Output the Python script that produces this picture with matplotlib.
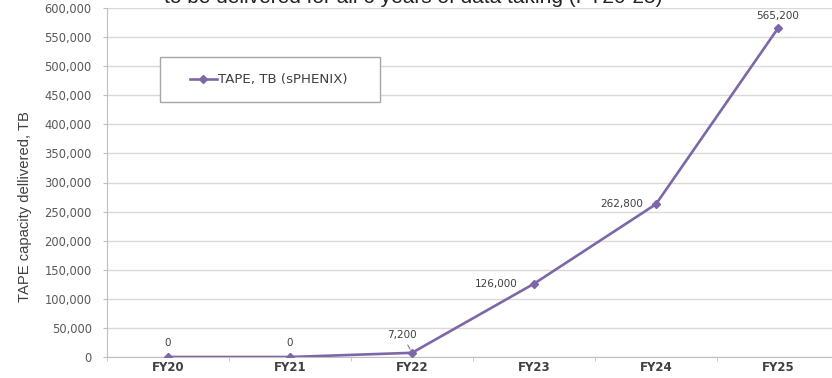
import matplotlib.pyplot as plt
from matplotlib.patches import Rectangle
from matplotlib.ticker import FuncFormatter, MultipleLocator

# Tape capacity delivered per fiscal year (TB)
years = ['FY20', 'FY21', 'FY22', 'FY23', 'FY24', 'FY25']
tape_tb = [0, 0, 7200, 126000, 262800, 565200]
value_labels = ['0', '0', '7,200', '126,000', '262,800', '565,200']

W, H = 832, 378
fig = plt.figure(figsize=(W / 100, H / 100), dpi=100)
ax = fig.add_axes([107 / W, 21 / H, 732 / W, 349 / H])

purple = '#7c68a8'
text_grey = '#404040'
axis_grey = '#bfbfbf'

xs = list(range(len(years)))
ax.plot(xs, tape_tb, color=purple, lw=1.9, marker='D', ms=4,
        label='TAPE, TB (sPHENIX)', zorder=3)

ax.set_xlim(-0.5, 5.5)
ax.set_ylim(0, 600000)
ax.yaxis.set_major_locator(MultipleLocator(50000))
ax.yaxis.set_major_formatter(FuncFormatter(lambda v, p: f'{v:,.0f}'))
ax.grid(axis='y', color='#d9d9d9', lw=1)
ax.set_axisbelow(True)
for s in ['top', 'right']:
    ax.spines[s].set_visible(False)
ax.spines['left'].set_color(axis_grey)
ax.spines['bottom'].set_color(axis_grey)

ax.set_xticks(xs)
ax.set_xticklabels(years, fontweight='bold', color=text_grey, fontsize=8.5)
ax.tick_params(axis='x', which='major', length=0, pad=3)
ax.set_xticks([i - 0.5 for i in range(len(years) + 1)], minor=True)
ax.tick_params(axis='x', which='minor', length=3, color=axis_grey)
ax.tick_params(axis='y', length=3, color=axis_grey, labelsize=8.3,
               labelcolor='#595959', pad=8)

ax.set_ylabel('TAPE capacity dellivered, TB', fontsize=10.6, color=text_grey,
              family=['Liberation Sans Narrow', 'Liberation Sans'])
ax.yaxis.set_label_coords(-(107 - 32) / 732, 0.43)

# data labels: (dx, dy) offsets in points, alignment
label_pos = [
    ((0, 10), 'center'),
    ((0, 10), 'center'),
    ((-7, 13), 'center'),
    ((-12, 0), 'right'),
    ((-9, 0), 'right'),
    ((0, 9), 'center'),
]
for x, v, txt, (off, ha) in zip(xs, tape_tb, value_labels, label_pos):
    kw = {}
    if txt == '7,200':
        kw['arrowprops'] = dict(arrowstyle='-', color='#7f7f7f', lw=0.8,
                                shrinkA=2, shrinkB=3)
    ax.annotate(txt, (x, v), xytext=off, textcoords='offset points',
                ha=ha, va='center', fontsize=7.5, color=text_grey, **kw)

# legend box
box = Rectangle((160 / W, (H - 102) / H), 220 / W, 45 / H,
                transform=fig.transFigure, facecolor='white',
                edgecolor='#a6a6a6', lw=1, zorder=4, clip_on=False)
ax.add_patch(box)
leg = ax.legend(loc='center left', bbox_to_anchor=(190 / W, (H - 80) / H),
                bbox_transform=fig.transFigure, frameon=False, numpoints=1,
                handlelength=2.0, handletextpad=0.1, borderpad=0,
                borderaxespad=0, prop={'size': 9.6})
for t in leg.get_texts():
    t.set_color(text_grey)
leg.set_zorder(5)

fig.text(413 / W, 1 - 3 / H,
         'to be delivered for all 6 years of data taking (FY20-25)',
         ha='center', va='baseline', fontsize=15, family='Liberation Sans',
         color='#222222')

fig.savefig('out.png', dpi=100)
